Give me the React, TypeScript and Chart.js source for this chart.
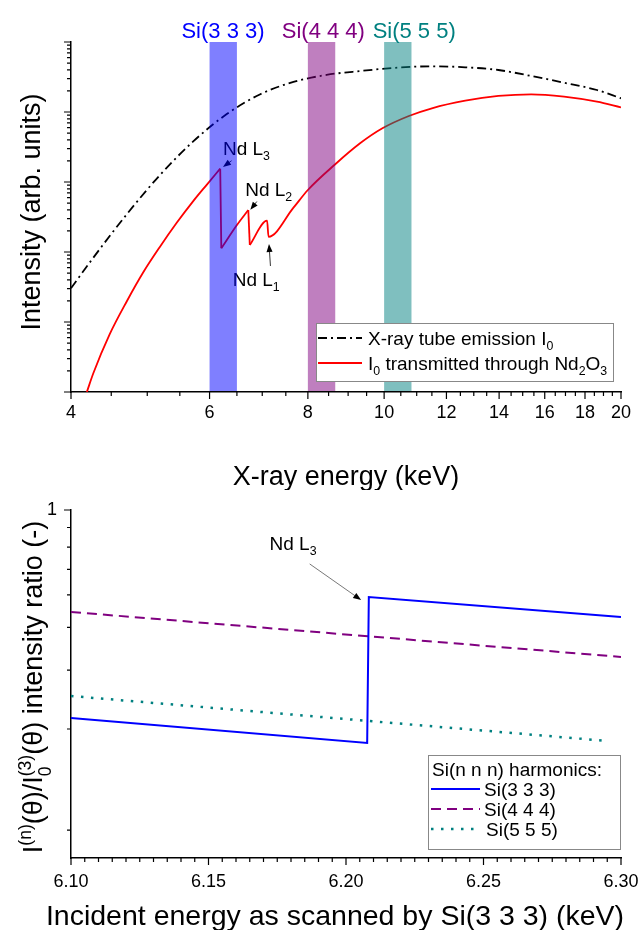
import React, { useEffect, useRef } from 'react';
import { Chart, registerables } from 'chart.js';

Chart.register(...registerables);

const FONT = '"Liberation Sans", Arial, Helvetica, sans-serif';

// ---------------- Top panel data ----------------
const tubeEnergy = [4, 4.27, 4.71, 5.19, 5.72, 6.31, 6.95, 7.67, 8.45, 9.32, 10.44, 11.5, 12.68, 13.97, 15.38, 16.93, 18.64, 20];
const tubeIntensity = [30.3, 83, 347, 1259, 3802, 9333, 17780, 26900, 33900, 38460, 43150, 44980, 43500, 39800, 32700, 26200, 20620, 15700];

const ndEnergy = [4.19, 4.27, 4.48, 4.71, 4.94, 5.19, 5.45, 5.72, 5.95, 6.19, 6.21, 6.5, 6.72, 6.75, 7.1, 7.13, 7.67, 8.0, 8.66, 9.32, 9.95, 10.75, 11.5, 12.68, 13.97, 15.38, 16.93, 18.64, 20];
const ndIntensity = [1.0, 1.85, 6.7, 19.8, 50.9, 119, 261, 533, 912, 1550, 113, 243, 398, 126, 280, 165, 430, 769, 1780, 3570, 5850, 8770, 11300, 14500, 16940, 17900, 16550, 14030, 11670];

const bandRanges: [number, number][] = [[6.0, 6.5], [8.0, 8.667], [10.0, 10.833]];
const bandLabels = ['Si(3 3 3)', 'Si(4 4 4)', 'Si(5 5 5)'];
const bandLabelEnergy = [6.24, 8.37, 10.92];
const bandColors = ['rgba(0,0,255,0.5)', 'rgba(128,0,128,0.5)', 'rgba(0,128,128,0.5)'];
const bandTextColors = ['#0000ff', '#800080', '#008080'];

const topXTickLabels = [4, 6, 8, 10, 12, 14, 16, 18, 20];
const topXMinorTicks: number[] = [];
for (let v = 4.5; v < 20; v += 0.5) if (!topXTickLabels.includes(v)) topXMinorTicks.push(v);
const topYDecades = [1, 10, 100, 1000, 10000, 100000];
const topYMinorTicks: number[] = [];
for (let d = 0; d < 5; d++) for (let m = 2; m <= 9; m++) topYMinorTicks.push(m * topYDecades[d]);

const edgeNotes = [
  { sub: '3', textE: 6.24, textI: 3060, fromE: 6.40, fromI: 2015, toE: 6.24, toI: 1640 },
  { sub: '2', textE: 6.66, textI: 794, fromE: 6.89, fromI: 526, toE: 6.76, toI: 400 },
  { sub: '1', textE: 6.42, textI: 41.1, fromE: 7.17, fromI: 63.1, toE: 7.14, toI: 130 },
];

// ---------------- Bottom panel data ----------------
const scanEnergy333 = [6.10, 6.2077, 6.2083, 6.30];
const ratio333 = [0.2863, 0.2464, 0.5928, 0.5255];
const scanEnergy444 = [6.10, 6.30];
const ratio444 = [0.5417, 0.4133];
const scanEnergy555 = [6.10, 6.295];
const ratio555 = [0.3268, 0.2494];

const bottomXTickLabels = [6.10, 6.15, 6.20, 6.25, 6.30];
const bottomXMinorTicks: number[] = [];
for (let i = 1; i < 40; i++) if (i % 10 !== 0) bottomXMinorTicks.push(6.10 + i * 0.005);
const bottomYTickLabels = [1];
const bottomYMinorTicks = [0.9, 0.8, 0.7, 0.6, 0.494, 0.382, 0.268, 0.146];

const bottomNote = { textE: 6.1722, textR: 0.82, fromE: 6.1868, fromR: 0.723, toE: 6.2055, toR: 0.582 };

// ---------------- helpers ----------------
type Seg = { t: string; m?: 'sub' | 'sup' | 'subsup'; t2?: string };

function segWidth(ctx: CanvasRenderingContext2D, s: Seg, size: number) {
  if (!s.m) {
    ctx.font = `${size}px ${FONT}`;
    return ctx.measureText(s.t).width;
  }
  ctx.font = `${size * 0.65}px ${FONT}`;
  if (s.m === 'subsup') return Math.max(ctx.measureText(s.t).width, ctx.measureText(s.t2 || '').width);
  return ctx.measureText(s.t).width;
}

function drawRich(ctx: CanvasRenderingContext2D, segs: Seg[], x: number, y: number, size: number, align: 'left' | 'center', color: string) {
  const total = segs.reduce((a, s) => a + segWidth(ctx, s, size), 0);
  let cx = align === 'center' ? x - total / 2 : x;
  const base = y + size * 0.35;
  ctx.fillStyle = color;
  ctx.textAlign = 'left';
  ctx.textBaseline = 'alphabetic';
  for (const s of segs) {
    const w = segWidth(ctx, s, size);
    if (!s.m) {
      ctx.font = `${size}px ${FONT}`;
      ctx.fillText(s.t, cx, base);
    } else {
      ctx.font = `${size * 0.65}px ${FONT}`;
      if (s.m === 'sub' || s.m === 'subsup') ctx.fillText(s.t, cx, base + size * 0.3);
      if (s.m === 'sup') ctx.fillText(s.t, cx, base - size * 0.42);
      if (s.m === 'subsup') ctx.fillText(s.t2 || '', cx, base - size * 0.42);
    }
    cx += w;
  }
}

function drawArrow(ctx: CanvasRenderingContext2D, x1: number, y1: number, x2: number, y2: number, color: string, lw: number, head: number) {
  const a = Math.atan2(y2 - y1, x2 - x1);
  ctx.save();
  ctx.setLineDash([]);
  ctx.strokeStyle = color;
  ctx.lineWidth = lw;
  ctx.beginPath();
  ctx.moveTo(x1, y1);
  ctx.lineTo(x2 - Math.cos(a) * head * 0.8, y2 - Math.sin(a) * head * 0.8);
  ctx.stroke();
  ctx.fillStyle = '#000';
  const w = head * 0.38;
  ctx.beginPath();
  ctx.moveTo(x2, y2);
  ctx.lineTo(x2 - head * Math.cos(a) + w * Math.sin(a), y2 - head * Math.sin(a) - w * Math.cos(a));
  ctx.lineTo(x2 - head * Math.cos(a) - w * Math.sin(a), y2 - head * Math.sin(a) + w * Math.cos(a));
  ctx.closePath();
  ctx.fill();
  ctx.restore();
}

function drawTickMarks(chart: any, xMajor: number[], xMinor: number[], yMajor: number[], yMinor: number[]) {
  const ctx: CanvasRenderingContext2D = chart.ctx;
  const xs = chart.scales.x, ys = chart.scales.y, ca = chart.chartArea;
  ctx.save();
  ctx.setLineDash([]);
  ctx.strokeStyle = '#000';
  ctx.lineWidth = 1.2;
  ctx.beginPath();
  xMajor.forEach(v => { const p = xs.getPixelForValue(v); ctx.moveTo(p, ca.bottom); ctx.lineTo(p, ca.bottom + 7); });
  xMinor.forEach(v => { const p = xs.getPixelForValue(v); ctx.moveTo(p, ca.bottom); ctx.lineTo(p, ca.bottom + 4); });
  yMajor.forEach(v => { const p = ys.getPixelForValue(v); ctx.moveTo(ca.left, p); ctx.lineTo(ca.left - 7, p); });
  yMinor.forEach(v => { const p = ys.getPixelForValue(v); ctx.moveTo(ca.left, p); ctx.lineTo(ca.left - 4, p); });
  ctx.stroke();
  ctx.restore();
}

function drawRotated(ctx: CanvasRenderingContext2D, segs: Seg[], x: number, y: number, size: number) {
  ctx.save();
  ctx.translate(x, y);
  ctx.rotate(-Math.PI / 2);
  drawRich(ctx, segs, 0, 0, size, 'center', '#000');
  ctx.restore();
}

function legendLine(ctx: CanvasRenderingContext2D, x1: number, x2: number, y: number, color: string, dash: number[], lw: number) {
  ctx.save();
  ctx.strokeStyle = color;
  ctx.lineWidth = lw;
  ctx.setLineDash(dash);
  ctx.beginPath();
  ctx.moveTo(x1, y);
  ctx.lineTo(x2, y);
  ctx.stroke();
  ctx.restore();
}

const TUBE_DASH = [9, 4, 2, 4];
const DASH_444 = [10, 6];
const DOT_555 = [2.5, 7.5];

// split the transmitted curve at the absorption edges (sharp drops)
function splitAtEdges(xs: number[], ys: number[]) {
  const segs: { x: number; y: number }[][] = [];
  let cur = [{ x: xs[0], y: ys[0] }];
  for (let i = 1; i < xs.length; i++) {
    const p = { x: xs[i], y: ys[i] };
    if (ys[i] < ys[i - 1] * 0.5) {
      segs.push(cur);
      segs.push([{ x: xs[i - 1], y: ys[i - 1] }, p]);
      cur = [p];
    } else cur.push(p);
  }
  segs.push(cur);
  return segs;
}

const fixX = (h: number) => (s: any) => { s.height = h; s.paddingLeft = 0; s.paddingRight = 0; };
const fixY = (w: number) => (s: any) => { s.width = w; s.paddingTop = 0; s.paddingBottom = 0; };

const topPlugin = {
  id: 'topDecor',
  afterDatasetsDraw(chart: any) {
    const ctx: CanvasRenderingContext2D = chart.ctx;
    const xs = chart.scales.x, ys = chart.scales.y, ca = chart.chartArea;
    ctx.save();
    // edge annotations
    edgeNotes.forEach(n => {
      drawRich(ctx, [{ t: 'Nd L' }, { t: n.sub, m: 'sub' }], xs.getPixelForValue(n.textE), ys.getPixelForValue(n.textI), 19, 'left', '#000');
      drawArrow(ctx, xs.getPixelForValue(n.fromE), ys.getPixelForValue(n.fromI), xs.getPixelForValue(n.toE), ys.getPixelForValue(n.toI), '#000', 0.8, 8);
    });
    // analyser bands
    bandRanges.forEach(([a, b], i) => {
      const x1 = xs.getPixelForValue(a), x2 = xs.getPixelForValue(b);
      ctx.fillStyle = bandColors[i];
      ctx.fillRect(x1, ca.top, x2 - x1, ca.bottom - ca.top - 1);
      drawRich(ctx, [{ t: bandLabels[i] }], xs.getPixelForValue(bandLabelEnergy[i]), ca.top - 12, 22, 'center', bandTextColors[i]);
    });
    // legend
    const L = ca.right - 305, R = ca.right - 8, T = ca.bottom - 69, B = ca.bottom - 11;
    ctx.fillStyle = '#fff';
    ctx.fillRect(L, T, R - L, B - T);
    ctx.strokeStyle = '#888';
    ctx.lineWidth = 1;
    ctx.setLineDash([]);
    ctx.strokeRect(L + 0.5, T + 0.5, R - L, B - T);
    const r1 = T + 15, r2 = T + 40;
    legendLine(ctx, L + 2, L + 46, r1, '#000', TUBE_DASH, 1.8);
    legendLine(ctx, L + 2, L + 46, r2, '#ff0000', [], 1.8);
    drawRich(ctx, [{ t: 'X-ray tube emission I' }, { t: '0', m: 'sub' }], L + 52, r1, 19, 'left', '#000');
    drawRich(ctx, [{ t: 'I' }, { t: '0', m: 'sub' }, { t: ' transmitted through Nd' }, { t: '2', m: 'sub' }, { t: 'O' }, { t: '3', m: 'sub' }], L + 52, r2, 19, 'left', '#000');
    // tick marks
    drawTickMarks(chart, topXTickLabels, topXMinorTicks, topYDecades, topYMinorTicks);
    // titles
    drawRotated(ctx, [{ t: 'Intensity (arb. units)' }], 31, 212, 27);
    drawRich(ctx, [{ t: 'X-ray energy (keV)' }], (ca.left + ca.right) / 2, 476, 27, 'center', '#000');
    ctx.restore();
  },
};

const bottomPlugin = {
  id: 'bottomDecor',
  afterDatasetsDraw(chart: any) {
    const ctx: CanvasRenderingContext2D = chart.ctx;
    const xs = chart.scales.x, ys = chart.scales.y, ca = chart.chartArea;
    ctx.save();
    // annotation
    drawRich(ctx, [{ t: 'Nd L' }, { t: '3', m: 'sub' }], xs.getPixelForValue(bottomNote.textE), ys.getPixelForValue(bottomNote.textR), 19, 'left', '#000');
    drawArrow(ctx, xs.getPixelForValue(bottomNote.fromE), ys.getPixelForValue(bottomNote.fromR), xs.getPixelForValue(bottomNote.toE), ys.getPixelForValue(bottomNote.toR), '#555', 0.8, 8);
    // legend
    const L = ca.right - 193, R = ca.right - 1, T = ca.bottom - 103, B = ca.bottom - 9;
    ctx.fillStyle = '#fff';
    ctx.fillRect(L, T, R - L, B - T);
    ctx.strokeStyle = '#888';
    ctx.lineWidth = 1;
    ctx.setLineDash([]);
    ctx.strokeRect(L + 0.5, T + 0.5, R - L, B - T);
    drawRich(ctx, [{ t: 'Si(n n n) harmonics:' }], L + 4, T + 14, 19, 'left', '#000');
    const rows = [T + 34, T + 54, T + 74];
    legendLine(ctx, L + 3, L + 52, rows[0], '#0000ff', [], 2);
    legendLine(ctx, L + 3, L + 52, rows[1], '#800080', DASH_444, 2);
    legendLine(ctx, L + 3, L + 52, rows[2], '#008080', DOT_555, 2.5);
    drawRich(ctx, [{ t: 'Si(3 3 3)' }], L + 56, rows[0], 19, 'left', '#000');
    drawRich(ctx, [{ t: 'Si(4 4 4)' }], L + 56, rows[1], 19, 'left', '#000');
    drawRich(ctx, [{ t: 'Si(5 5 5)' }], L + 58, rows[2], 19, 'left', '#000');
    // ticks
    drawTickMarks(chart, bottomXTickLabels, bottomXMinorTicks, bottomYTickLabels, bottomYMinorTicks);
    // titles
    drawRotated(ctx, [{ t: 'I' }, { t: '(n)', m: 'sup' }, { t: '(θ)/I' }, { t: '0', m: 'subsup', t2: '(3)' }, { t: '(θ) intensity ratio (-)' }], 33, 197, 27);
    drawRich(ctx, [{ t: 'Incident energy as scanned by Si(3 3 3) (keV)' }], (ca.left + ca.right) / 2 - 11, 425, 28.5, 'center', '#000');
    ctx.restore();
  },
};

function topConfig(): any {
  const redSegments = splitAtEdges(ndEnergy, ndIntensity).map(seg => ({
    data: seg,
    showLine: true,
    borderColor: '#ff0000',
    borderWidth: 1.8,
    pointRadius: 0,
    cubicInterpolationMode: 'monotone',
    fill: false,
  }));
  return {
    type: 'scatter',
    data: {
      datasets: [
        {
          data: tubeEnergy.map((x, i) => ({ x, y: tubeIntensity[i] })),
          showLine: true,
          borderColor: '#000',
          borderWidth: 1.8,
          borderDash: TUBE_DASH,
          pointRadius: 0,
          cubicInterpolationMode: 'monotone',
          fill: false,
        },
        ...redSegments,
      ],
    },
    options: {
      responsive: false,
      animation: false,
      devicePixelRatio: 1,
      layout: { padding: { left: 0, right: 17, top: 42, bottom: 0 } },
      plugins: { legend: { display: false }, tooltip: { enabled: false } },
      scales: {
        x: {
          type: 'logarithmic',
          min: 4,
          max: 20,
          afterFit: fixX(98),
          afterBuildTicks: (s: any) => { s.ticks = topXTickLabels.map(v => ({ value: v })); },
          ticks: { autoSkip: false, maxRotation: 0, padding: 10, color: '#000', font: { family: FONT, size: 18 }, callback: (v: any) => String(v) },
          grid: { display: false, drawTicks: false },
          border: { display: true, color: '#000', width: 1.5 },
        },
        y: {
          type: 'logarithmic',
          min: 1,
          max: 100000,
          afterFit: fixY(71),
          ticks: { display: false },
          grid: { display: false, drawTicks: false },
          border: { display: true, color: '#000', width: 1.5 },
        },
      },
    },
    plugins: [topPlugin],
  };
}

function bottomConfig(): any {
  return {
    type: 'scatter',
    data: {
      datasets: [
        {
          data: scanEnergy333.map((x, i) => ({ x, y: ratio333[i] })),
          showLine: true, borderColor: '#0000ff', borderWidth: 2, pointRadius: 0, fill: false,
        },
        {
          data: scanEnergy444.map((x, i) => ({ x, y: ratio444[i] })),
          showLine: true, borderColor: '#800080', borderWidth: 2, borderDash: DASH_444, pointRadius: 0, fill: false,
        },
        {
          data: scanEnergy555.map((x, i) => ({ x, y: ratio555[i] })),
          showLine: true, borderColor: '#008080', borderWidth: 2.5, borderDash: DOT_555, pointRadius: 0, fill: false,
        },
      ],
    },
    options: {
      responsive: false,
      animation: false,
      devicePixelRatio: 1,
      layout: { padding: { left: 0, right: 17, top: 20, bottom: 0 } },
      plugins: { legend: { display: false }, tooltip: { enabled: false } },
      scales: {
        x: {
          type: 'linear',
          min: 6.10,
          max: 6.30,
          afterFit: fixX(72),
          afterBuildTicks: (s: any) => { s.ticks = bottomXTickLabels.map(v => ({ value: v })); },
          ticks: { autoSkip: false, maxRotation: 0, padding: 13, color: '#000', font: { family: FONT, size: 18 }, callback: (v: any) => Number(v).toFixed(2) },
          grid: { display: false, drawTicks: false },
          border: { display: true, color: '#000', width: 1.5 },
        },
        y: {
          type: 'logarithmic',
          min: 0.1234,
          max: 1,
          afterFit: fixY(71),
          afterBuildTicks: (s: any) => { s.ticks = bottomYTickLabels.map(v => ({ value: v })); },
          ticks: { autoSkip: false, padding: 14, color: '#000', font: { family: FONT, size: 18 }, callback: (v: any) => String(v) },
          grid: { display: false, drawTicks: false },
          border: { display: true, color: '#000', width: 1.5 },
        },
      },
    },
    plugins: [bottomPlugin],
  };
}

export default function App() {
  const topRef = useRef<HTMLCanvasElement>(null);
  const botRef = useRef<HTMLCanvasElement>(null);
  useEffect(() => {
    const c1 = new Chart(topRef.current as HTMLCanvasElement, topConfig());
    const c2 = new Chart(botRef.current as HTMLCanvasElement, bottomConfig());
    return () => { c1.destroy(); c2.destroy(); };
  }, []);
  return (
    <div style={{ position: 'absolute', left: 0, top: 0, width: 638, height: 930, background: '#fff' }}>
      <canvas ref={topRef} width={638} height={490} style={{ position: 'absolute', left: 0, top: 0, width: 638, height: 490 }} />
      <canvas ref={botRef} width={638} height={440} style={{ position: 'absolute', left: 0, top: 490, width: 638, height: 440 }} />
    </div>
  );
}
